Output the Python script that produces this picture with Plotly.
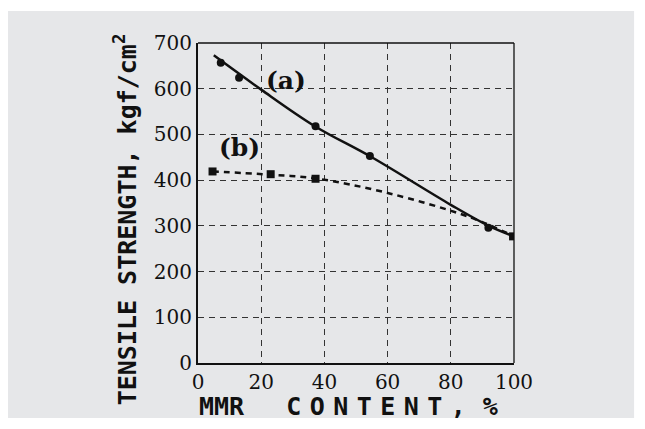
import plotly.graph_objects as go

# Data
a_x = [7.2, 13.0, 37.2, 54.4, 91.9]
a_y = [657, 624, 518, 453, 296]
b_x = [4.6, 23.0, 37.2, 99.7]
b_y = [419, 413, 403, 277]
# fitted curves
a_fit_x = [5, 20, 37, 55, 80, 92, 100]
a_fit_y = [673, 598, 518, 450, 346, 300, 277]
b_fit_x = [4.6, 23, 37, 60, 86, 100]
b_fit_y = [419, 412, 404, 372, 319, 277]
x_ticks = [0, 20, 40, 60, 80, 100]
y_ticks = [0, 100, 200, 300, 400, 500, 600, 700]

GRAY = "#e6e7e9"
INK = "#111111"

fig = go.Figure()
fig.add_trace(go.Scatter(x=a_fit_x, y=a_fit_y, mode="lines",
                         line=dict(color=INK, width=2.5, shape="spline"), showlegend=False))
fig.add_trace(go.Scatter(x=b_fit_x, y=b_fit_y, mode="lines",
                         line=dict(color=INK, width=2.5, dash="6px,5px", shape="spline"), showlegend=False))
fig.add_trace(go.Scatter(x=a_x, y=a_y, mode="markers",
                         marker=dict(symbol="circle", size=8, color=INK), showlegend=False))
fig.add_trace(go.Scatter(x=b_x, y=b_y, mode="markers",
                         marker=dict(symbol="square", size=8, color=INK), showlegend=False))

axis_common = dict(showline=True, linecolor=INK, linewidth=2, mirror=False,
                   showgrid=True, gridcolor="#333333", griddash="6px,5px", gridwidth=1,
                   zeroline=False, ticks="",
                   tickfont=dict(family="DejaVu Serif", size=20, color=INK))
fig.update_xaxes(range=[0, 100], tickvals=x_ticks, **axis_common)
fig.update_yaxes(range=[0, 700], tickvals=y_ticks, **axis_common)

# gray panel
fig.add_shape(type="rect", xref="paper", yref="paper", x0=-0.604, x1=1.380, y0=-0.172, y1=1.1,
              fillcolor=GRAY, line=dict(width=0), layer="below")
# top/right frame
fig.add_shape(type="line", xref="paper", yref="paper", x0=0, x1=1, y0=1, y1=1,
              line=dict(color=INK, width=1.3))
fig.add_shape(type="line", xref="paper", yref="paper", x0=1, x1=1, y0=0, y1=1,
              line=dict(color=INK, width=1.3))

sp = "<span style='font-size:14px'> </span>"
xtitle = "<b>MMR" + sp * 5 + sp.join(list("CONTENT,")) + sp * 2 + "%</b>"
fig.add_annotation(text=xtitle, xref="paper", yref="paper", x=0.477, y=-0.135,
                   showarrow=False, xanchor="center", yanchor="middle",
                   font=dict(family="DejaVu Sans Mono", size=25, color=INK))
fig.add_annotation(text="<b>TENSILE STRENGTH, kgf/cm<sup>2</sup></b>", xref="paper", yref="paper",
                   x=-0.23, y=0.45, textangle=-90, showarrow=False,
                   xanchor="center", yanchor="middle",
                   font=dict(family="DejaVu Sans Mono", size=25, color=INK))
fig.add_annotation(text="<b>(a)</b>", x=28, y=619, showarrow=False,
                   font=dict(family="DejaVu Serif", size=25, color=INK))
fig.add_annotation(text="<b>(b)</b>", x=13.2, y=472, showarrow=False,
                   font=dict(family="DejaVu Serif", size=25, color=INK))

fig.update_layout(width=637, height=421, margin=dict(l=190, r=131, t=35, b=66),
                  paper_bgcolor="white", plot_bgcolor=GRAY)
fig.write_html("out.html")
